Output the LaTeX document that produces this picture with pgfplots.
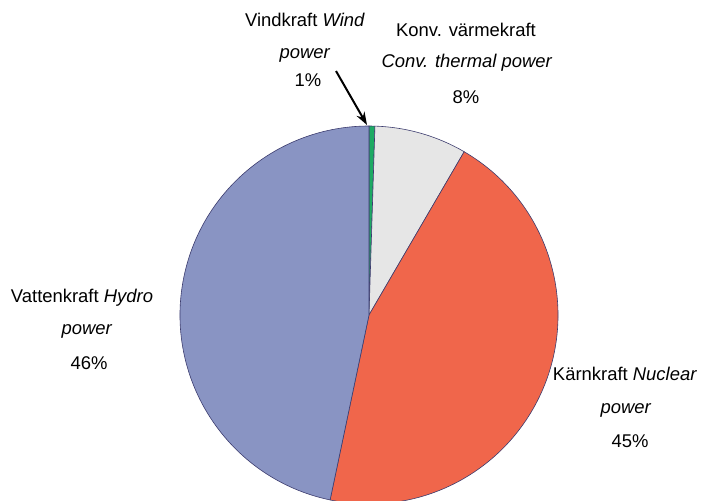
\documentclass[border=0pt]{standalone}
\usepackage{pgfplots}
\pgfplotsset{compat=1.18}
\usepackage{pgfplotstable}
\usetikzlibrary{arrows.meta}
\usepackage{fontspec}
\setmainfont{Liberation Sans}
\definecolor{slice0}{HTML}{1DAA63}
\definecolor{slice1}{HTML}{E6E6E6}
\definecolor{slice2}{HTML}{F0664B}
\definecolor{slice3}{HTML}{8994C3}
\definecolor{edgecol}{HTML}{3C3C6E}
\pgfplotstableread{
name value
wind 0.5
thermal 7.9
nuclear 44.9
hydro 46.7
}\piedata
\begin{document}
\begin{tikzpicture}
\begin{axis}[
  scale only axis, width=702bp, height=501bp,
  xmin=0, xmax=702, ymin=0, ymax=501, y dir=reverse,
  enlargelimits=false, hide axis, clip=true,
]
\pgfmathsetmacro\startang{90}
\pgfplotsforeachungrouped \i in {0,...,3}{%
  \pgfplotstablegetelem{\i}{value}\of\piedata
  \pgfmathsetmacro\endang{\startang - 3.6*\pgfplotsretval}%
  \pgfmathsetmacro\sx{369+189*cos(\startang)}%
  \pgfmathsetmacro\sy{315-189*sin(\startang)}%
  \edef\temp{\noexpand\filldraw[fill=slice\i, draw=edgecol, line width=0.6pt] (axis cs:369,315) -- (axis cs:\sx,\sy) arc[start angle=\startang, end angle=\endang, radius=189bp] -- cycle;}%
  \temp
  \global\let\startang\endang
}
\draw[-{Stealth[length=13pt,width=9pt]}, line width=2pt] (axis cs:336,71) -- (axis cs:367,125);
\tikzset{lbl/.style={anchor=base, inner sep=0pt, font=\fontsize{18.5}{22}\selectfont}}
% wind
\node[lbl] at (axis cs:305,27) {Vindkraft \textit{Wind}};
\node[lbl] at (axis cs:305,59) {\textit{power}};
\node[lbl] at (axis cs:308,87) {1\%};
% thermal
\node[lbl] at (axis cs:466,37) {Konv. värmekraft};
\node[lbl] at (axis cs:467,68) {\textit{Conv. thermal power}};
\node[lbl] at (axis cs:466,103) {8\%};
% hydro
\node[lbl] at (axis cs:82,302) {Vattenkraft \textit{Hydro}};
\node[lbl] at (axis cs:87,334) {\textit{power}};
\node[lbl] at (axis cs:89,369) {46\%};
% nuclear
\node[lbl] at (axis cs:625,380) {Kärnkraft \textit{Nuclear}};
\node[lbl] at (axis cs:626,413) {\textit{power}};
\node[lbl] at (axis cs:630,447) {45\%};
\end{axis}
\pgfresetboundingbox
\path (current axis.south west) rectangle (current axis.north east);
\end{tikzpicture}
\end{document}
